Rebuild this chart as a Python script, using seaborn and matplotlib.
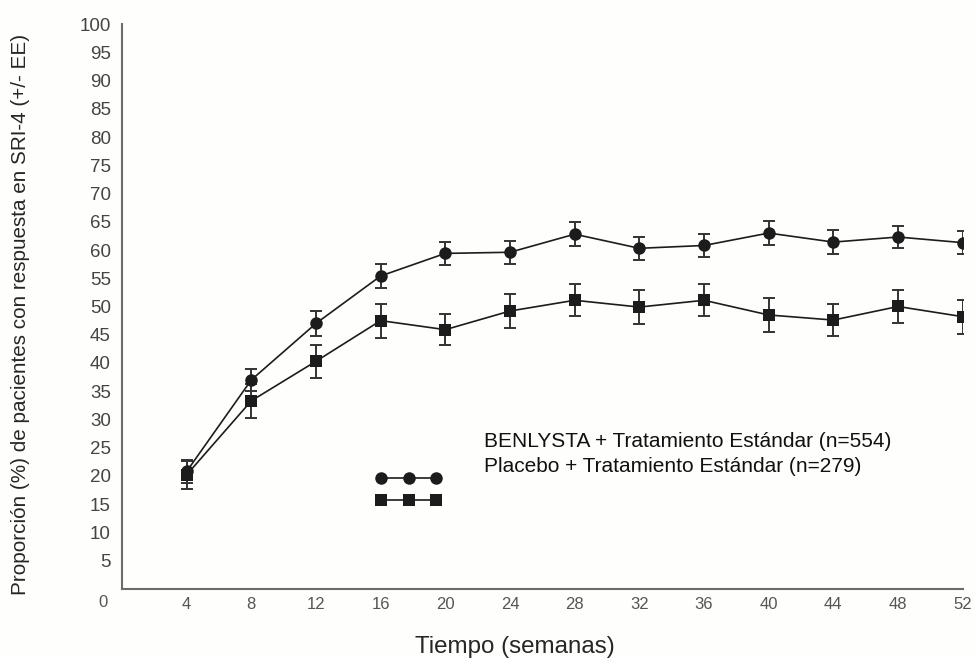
import numpy as np
import pandas as pd
import seaborn as sns
import matplotlib.pyplot as plt
from matplotlib.lines import Line2D

# semanas de seguimiento
semanas = [4, 8, 12, 16, 20, 24, 28, 32, 36, 40, 44, 48, 52]

# BENLYSTA + tratamiento estandar
benlysta = [20.8, 37.0, 47.0, 55.4, 59.4, 59.6, 62.8, 60.3, 60.8, 63.0, 61.4, 62.3, 61.3]
benlysta_ee = [2.0, 2.0, 2.2, 2.1, 2.1, 2.0, 2.1, 2.0, 2.0, 2.1, 2.1, 2.0, 2.0]

# placebo + tratamiento estandar
placebo = [20.2, 33.3, 40.3, 47.5, 45.9, 49.2, 51.1, 49.9, 51.1, 48.5, 47.6, 50.0, 48.2]
placebo_ee = [2.5, 3.0, 2.9, 3.0, 2.8, 3.0, 2.8, 3.0, 2.8, 3.0, 2.9, 3.0, 3.0]

grupos = ["BENLYSTA", "Placebo"]
etiquetas = ["BENLYSTA + Tratamiento Estándar (n=554)",
             "Placebo + Tratamiento Estándar (n=279)"]
x_ticks = list(range(4, 53, 4))
y_ticks = list(range(5, 101, 5))

sns.set_style("white")
plt.rcParams["font.family"] = ["Liberation Sans", "DejaVu Sans"]

df = pd.DataFrame({
    "semana": semanas * 2,
    "pct": benlysta + placebo,
    "ee": benlysta_ee + placebo_ee,
    "grupo": [grupos[0]] * len(semanas) + [grupos[1]] * len(semanas),
})

fig = plt.figure(figsize=(9.74, 6.58), dpi=100)
fig.patch.set_facecolor("#fefefc")
ax = fig.add_axes([0.1252, 0.1049, 0.8632, 0.8586])
ax.set_facecolor("#fefefc")

linea = "#1c1c1c"
sns.lineplot(data=df, x="semana", y="pct", style="grupo",
             markers={"BENLYSTA": "o", "Placebo": "s"}, dashes=False,
             color=linea, linewidth=1.2, legend=False, ax=ax, zorder=3)
for lines in ax.lines:
    lines.set_markersize(9)
    lines.set_markeredgewidth(0)
    lines.set_markerfacecolor(linea)

for g in grupos:
    d = df[df["grupo"] == g]
    ax.errorbar(d["semana"], d["pct"], yerr=d["ee"], fmt="none",
                ecolor="#333333", elinewidth=1.4, capsize=4.5, capthick=1.4, zorder=2)

ax.set_xlim(0, 52)
ax.set_ylim(0, 100)
ax.set_xticks(x_ticks)
ax.set_yticks(y_ticks)
ax.tick_params(axis="x", direction="in", length=4, width=1.2, color="#666666",
               labelsize=12, labelcolor="#555555", pad=6)
ax.tick_params(axis="y", direction="out", length=6.5, width=1.2, color="#666666",
               labelsize=13.5, labelcolor="#444444", pad=1.5)
ax.text(-0.0225, -0.0248, "0", transform=ax.transAxes, ha="center", va="center",
        fontsize=12, color="#555555")

sns.despine(ax=ax)
for s in ["left", "bottom"]:
    ax.spines[s].set_color("#6b6b6b")
    ax.spines[s].set_linewidth(1.5)

ax.set_xlabel("Tiempo (semanas)", fontsize=17.4)
ax.xaxis.set_label_coords(0.4676, -0.083)
ax.set_ylabel("Proporción (%) de pacientes con respuesta en SRI-4 (+/- EE)", fontsize=14.9)
ax.yaxis.set_label_coords(-0.109, 0.486)

# claves de la leyenda (marcadores) y textos por separado, como en la figura
handles = [Line2D([], [], color=linea, lw=1.2, marker=m, markersize=9,
                  markeredgewidth=0) for m in ["o", "s"]]
leg = ax.legend(handles, ["", ""], numpoints=3, handlelength=4.6, handletextpad=0,
                fontsize=10, frameon=False, labelspacing=0.55,
                loc="center", bbox_to_anchor=(0.341, 0.175))

for i, t in enumerate(etiquetas):
    ax.text(0.4306, 0.2508 - i * 0.0443, t, transform=ax.transAxes,
            ha="left", va="baseline", fontsize=15, color="#111111")

plt.savefig("out.png", dpi=100, facecolor=fig.get_facecolor())
